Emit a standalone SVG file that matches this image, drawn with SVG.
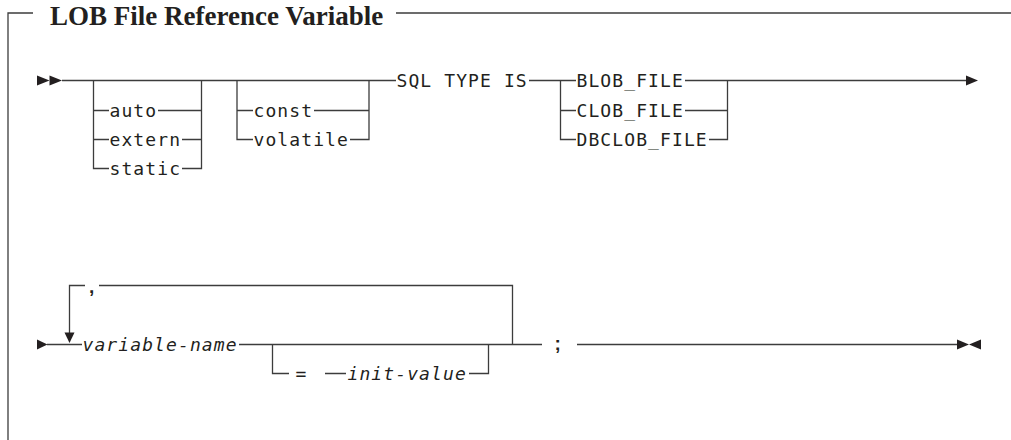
<svg xmlns="http://www.w3.org/2000/svg" width="1011" height="440" viewBox="0 0 1011 440">
<style>
.ln{fill:none;stroke:#3c3c3c;stroke-width:1.3}
.ah{fill:#231f20}
.k{font-family:"DejaVu Sans Mono",monospace;font-size:18px;letter-spacing:1.1px;fill:#231f20}
.v{font-family:"DejaVu Sans Mono",monospace;font-size:18px;font-style:italic;letter-spacing:1.1px;fill:#231f20}
.p{font-family:"Liberation Sans",sans-serif;font-size:19px;font-weight:bold;fill:#231f20}
.t{font-family:"Liberation Serif",serif;font-size:27px;font-weight:bold;fill:#231f20}
</style>
<rect width="1011" height="440" fill="#fff"/>
<g id="frame">
<path class="ln" d="M8,440 V13 H33 M396,13 H1011"/>
<text class="t" x="50" y="25">LOB File Reference Variable</text>
</g>
<g id="connectors">
<polygon class="ah" points="37,75.5 37,85.5 49.5,80.5"/>
<polygon class="ah" points="49.5,75.5 49.5,85.5 62,80.5"/>
<path class="ln" d="M62,80.5 H396 M529,80.5 H576 M685,80.5 H967"/>
<polygon class="ah" points="966,75.5 966,85.5 978,80.5"/>
<path class="ln" d="M93.5,80.5 V168.5 H109 M93.5,110.5 H109 M93.5,139.5 H109"/>
<path class="ln" d="M201.5,80.5 V168.5 H182 M158,110.5 H201.5 M182,139.5 H201.5"/>
<path class="ln" d="M237,80.5 V139.5 H253 M237,110.5 H253"/>
<path class="ln" d="M369,80.5 V139.5 H350 M314,110.5 H369"/>
<path class="ln" d="M560.5,80.5 V139.5 H576 M560.5,110.5 H576"/>
<path class="ln" d="M727.5,80.5 V139.5 H709 M685,110.5 H727.5"/>
<polygon class="ah" points="37,339.5 37,349.5 47.5,344.5"/>
<path class="ln" d="M47,344.5 H82"/>
<path class="ln" d="M69.5,334 V285.5 H85 M99,285.5 H512.5 V344.5"/>
<polygon class="ah" points="64.5,332.5 74.5,332.5 69.5,343"/>
<path class="ln" d="M239,344.5 H542"/>
<path class="ln" d="M272.5,344.5 V373.5 H289 M325,373.5 H346 M469,373.5 H488.5 V344.5"/>
<path class="ln" d="M577,344.5 H957"/>
<polygon class="ah" points="957,339.5 957,349.5 969,344.5"/>
<polygon class="ah" points="981,339.5 981,349.5 969,344.5"/>
</g>
<g id="n-auto"><text class="k" x="109.5" y="116.5">auto</text></g>
<g id="n-extern"><text class="k" x="109.5" y="145.5">extern</text></g>
<g id="n-static"><text class="k" x="109.5" y="174.5">static</text></g>
<g id="n-const"><text class="k" x="253.5" y="116.5">const</text></g>
<g id="n-volatile"><text class="k" x="253.5" y="145.5">volatile</text></g>
<g id="n-sqltype"><text class="k" x="396.5" y="86.5">SQL TYPE IS</text></g>
<g id="n-blob"><text class="k" x="576.5" y="86.5">BLOB_FILE</text></g>
<g id="n-clob"><text class="k" x="576.5" y="116.5">CLOB_FILE</text></g>
<g id="n-dbclob"><text class="k" x="576.5" y="145.5">DBCLOB_FILE</text></g>
<g id="n-comma"><text class="p" x="89" y="293">,</text></g>
<g id="n-varname"><text class="v" x="82.5" y="350.5">variable-name</text></g>
<g id="n-eq"><text class="k" x="295.5" y="379.5">=</text></g>
<g id="n-initvalue"><text class="v" x="347.5" y="379.5">init-value</text></g>
<g id="n-semi"><text class="p" x="554.5" y="349.5">;</text></g>
</svg>
